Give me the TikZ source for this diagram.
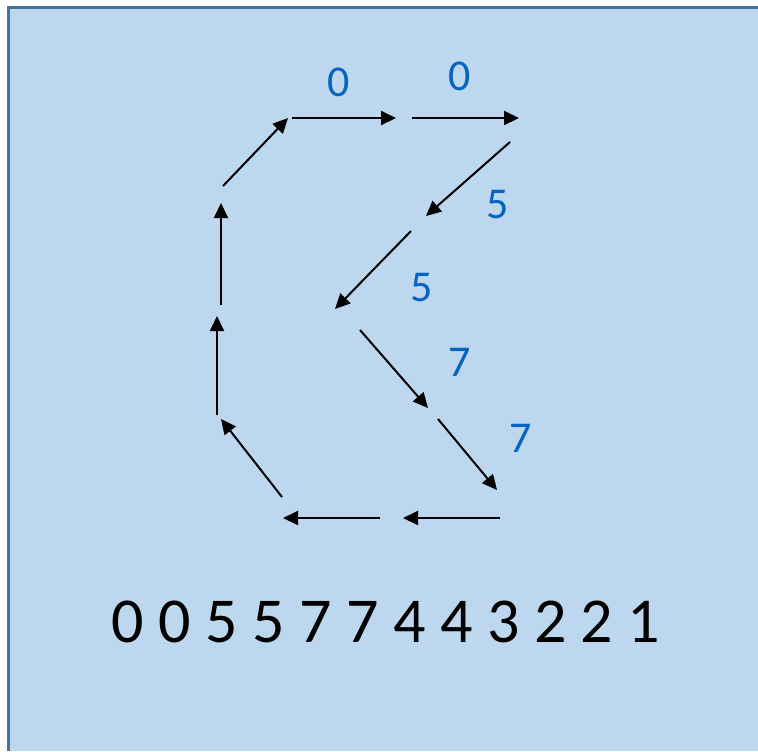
\documentclass[tikz,border=0pt]{standalone}
\usepackage{fontspec}
\setsansfont{Carlito}
\usetikzlibrary{arrows.meta}
\definecolor{FondoAzul}{HTML}{BDD7EE}
\definecolor{BordeAzul}{HTML}{41719C}
\definecolor{CifraAzul}{HTML}{0563C1}
\tikzset{
    flecha/.style={black, line width=1pt, -{Triangle[length=7.5pt, width=7pt]}},
    cifra/.style={font=\sffamily\fontsize{22}{26}\selectfont, text=CifraAzul, inner sep=0pt},
    secuencia/.style={font=\sffamily\fontsize{32}{38}\selectfont, text=black, inner sep=0pt}
}

\begin{document}
\begin{tikzpicture}[x=0.5pt, y=-0.5pt]

% fondo
\useasboundingbox (0,0) rectangle (758,751);
\fill[FondoAzul] (8,7) rectangle (758,751);
\draw[BordeAzul, line width=1.5pt] (8,751) -- (8,7) -- (758,7);

% puntos de las flechas
\foreach \n/\x/\y in {%
    a/292/118, b/396/118, c/412/118, d/519/118,
    e/510/142, f/426/216, g/411/231, h/335/309,
    i/360/330, j/428/408, k/438/419, l/497/490,
    m/500/518, n/403/518, o/380/518, p/283/518,
    q/282/497, r/221/419, s/217/415, t/217/316,
    u/221/305, v/221/203, w/223/186, z/288/118}{%
    \coordinate (\n) at (\x,\y);
}

% flechas
\foreach \a/\b in {a/b, c/d, e/f, g/h, i/j, k/l, m/n, o/p, q/r, s/t, u/v, w/z}{%
    \draw[flecha] (\a) -- (\b);
}

% etiquetas
\node[cifra] (c1) at (339,82) {0};
\node[cifra] (c2) at (460,76) {0};
\node[cifra] (c3) at (498,205) {5};
\node[cifra] (c4) at (422,288) {5};
\node[cifra] (c5) at (460,362) {7};
\node[cifra] (c6) at (521,438) {7};

% secuencia
\node[secuencia] (cadena) at (386,622) {0 0 5 5 7 7 4 4 3 2 2 1};

\end{tikzpicture}
\end{document}
